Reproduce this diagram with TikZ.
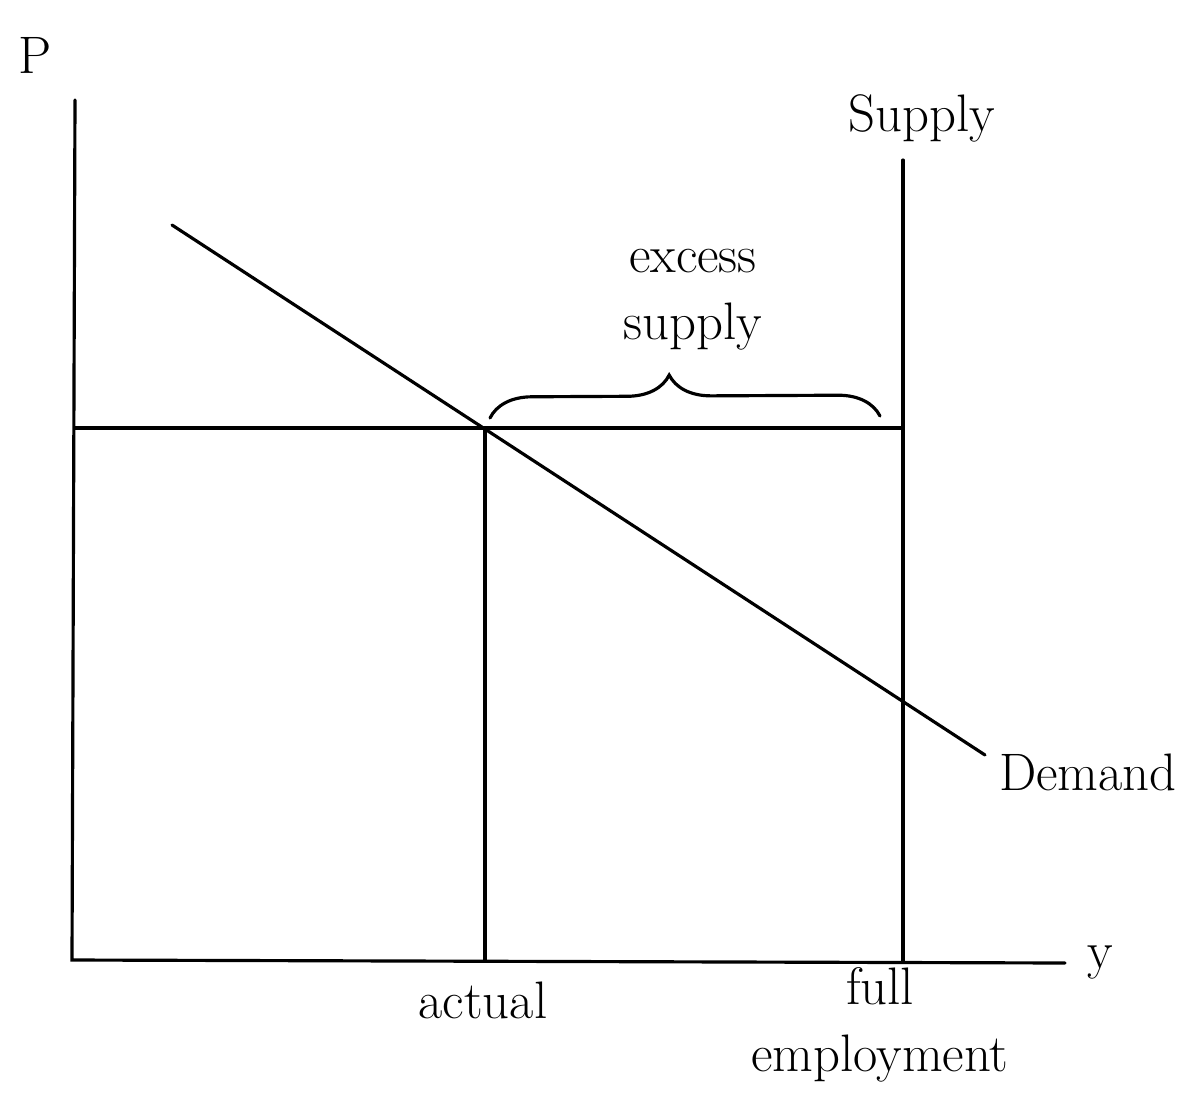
\documentclass[tikz,border=0pt]{standalone}
\usetikzlibrary{positioning, decorations.pathreplacing}

\begin{document}
\begin{tikzpicture}[x=0.01cm, y=-0.01cm,
    ln/.style={line width=0.9pt, line cap=round},
    lbl/.style={font=\fontsize{15}{19}\selectfont, inner sep=1pt, align=center}
]
    \useasboundingbox (0,0) rectangle (1194,1103);

    % axes and curves
    \coordinate (ptop) at (75,100);
    \coordinate (origin) at (72,960);
    \coordinate (yend) at (1065,963);
    \coordinate (stop) at (903,160);
    \coordinate (sbot) at (903,962);
    \coordinate (dtop) at (172,225);
    \coordinate (dbot) at (985,755);
    \coordinate (pleft) at (75,428);
    \coordinate (eq) at (485,428);
    \coordinate (pright) at (903,428);
    \coordinate (abot) at (485,961);
    \coordinate (bl) at (490,418);
    \coordinate (br) at (880,416);

    \draw[ln] (ptop) -- (origin) -- (yend);
    \draw[ln] (stop) -- (sbot);
    \draw[ln] (dtop) -- (dbot);
    \draw[ln] (pleft) -- (pright);
    \draw[ln] (eq) -- (abot);
    \draw[ln, decorate, decoration={brace, amplitude=0.42cm, aspect=0.46}] (bl) -- (br);

    % labels
    \node[lbl] (plbl) at (35,55) {P};
    \node[lbl] (ylbl) at (1100,962) {y};
    \node[lbl] (slbl) at (922,118) {Supply};
    \node[lbl, anchor=west] (dlbl) at (995,772) {Demand};
    \node[lbl] (exlbl) at (693,300) {excess\\supply};
    \node[lbl] (albl) at (483,1000) {actual};
    \node[lbl] (flbl) at (880,1025) {full\\employment};
\end{tikzpicture}
\end{document}
